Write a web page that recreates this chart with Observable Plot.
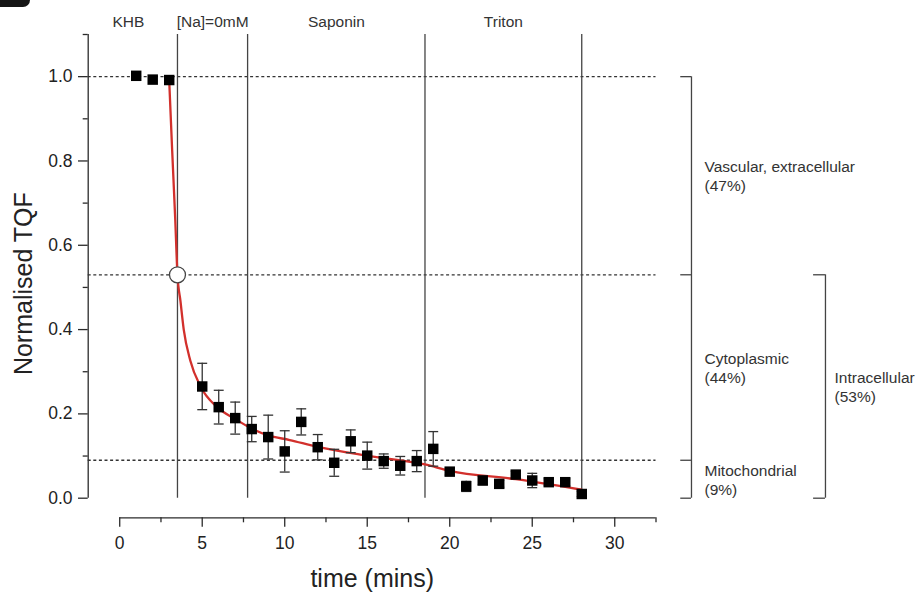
<!DOCTYPE html>
<html>
<head>
<meta charset="utf-8">
<script src="https://cdn.jsdelivr.net/npm/d3@7"></script>
<script src="https://cdn.jsdelivr.net/npm/@observablehq/plot@0.6"></script>
<style>
  html, body { margin: 0; padding: 0; background: #fff; }
  #wrap { position: relative; width: 918px; height: 595px; overflow: hidden; }
  #tab { position: absolute; left: 0; top: 0; width: 30px; height: 7px; background: #151515; border-bottom-right-radius: 9px; }
  #chart { position: absolute; left: 0; top: 0; }
</style>
</head>
<body>
<div id="wrap"><div id="chart"></div><div id="tab"></div></div>
<script>
// ---- data ----
const times = [1, 2, 3, 5, 6, 7, 8, 9, 10, 11, 12, 13, 14, 15, 16, 17, 18, 19, 20, 21, 22, 23, 24, 25, 26, 27, 28];
const tqf   = [1.002, 0.993, 0.992, 0.265, 0.216, 0.190, 0.164, 0.145, 0.111, 0.181, 0.121, 0.084, 0.135, 0.101, 0.088, 0.077, 0.088, 0.117, 0.063, 0.028, 0.042, 0.034, 0.056, 0.042, 0.038, 0.038, 0.010];
const sem   = [0, 0, 0, 0.055, 0.040, 0.038, 0.030, 0.052, 0.049, 0.031, 0.030, 0.032, 0.027, 0.032, 0.017, 0.022, 0.025, 0.041, 0.008, 0.012, 0.010, 0.008, 0.008, 0.017, 0.008, 0.008, 0.006];

// fitted curve
const fitTime = [3.0, 3.18, 3.36, 3.5, 3.68, 3.88, 4.28, 4.9, 5.9, 7, 8, 9, 10.3, 12, 15, 18.5, 20, 24, 28];
const fitTqf  = [0.99, 0.824, 0.666, 0.53, 0.468, 0.40, 0.326, 0.265, 0.216, 0.188, 0.165, 0.149, 0.138, 0.122, 0.101, 0.080, 0.065, 0.045, 0.020];

const halfPoint = [{t: 3.5, v: 0.53}];

const phaseBounds = [3.5, 7.75, 18.5, 28];
const phaseLabels = ["KHB", "[Na]=0mM", "Saponin", "Triton"];
const phaseLabelTime = [0.53, 5.63, 13.13, 23.25];

const levels = [1.0, 0.53, 0.09];

const compartmentLabels = ["Vascular, extracellular\n(47%)", "Cytoplasmic\n(44%)", "Mitochondrial\n(9%)"];
const compartmentTop    = [1.0, 0.53, 0.09];
const compartmentBottom = [0.53, 0.09, 0.0];
const groupLabels = ["Intracellular\n(53%)"];
const groupTop    = [0.53];
const groupBottom = [0.0];

const yMajor = [0, 0.2, 0.4, 0.6, 0.8, 1.0];
const yMinor = [0.1, 0.3, 0.5, 0.7, 0.9, 1.1];
const xMajor = [0, 5, 10, 15, 20, 25, 30];
const xMinor = [2.5, 7.5, 12.5, 17.5, 22.5, 27.5, 32.5];

const yTitle = "Normalised TQF";
const xTitle = "time (mins)";

// ---- layout ----
const xDomain = [-1.91, 32.5];
const yDomain = [-0.0465, 1.1];
const yAxisTop = 1.1;
const xAxisEnd = 32.5;
const yTitlePos = 0.509;
const xTitlePos = 15.3;
const bracket1X = 34.65, bracket1TickX = 34.0;
const bracket2X = 42.77, bracket2TickX = 42.05;
const label1X = 35.44, label2X = 43.32;

const pts = times.map((t, i) => ({t, v: tqf[i], e: sem[i]}));
const errPts = pts.filter(d => d.e > 0);
const fit = fitTime.map((t, i) => ({t, v: fitTqf[i]}));
const phases = phaseLabels.map((s, i) => ({s, t: phaseLabelTime[i]}));
const comps = compartmentLabels.map((s, i) => ({s, top: compartmentTop[i], bottom: compartmentBottom[i], mid: (compartmentTop[i] + compartmentBottom[i]) / 2}));
const groups = groupLabels.map((s, i) => ({s, top: groupTop[i], bottom: groupBottom[i], mid: (groupTop[i] + groupBottom[i]) / 2}));
const bracket1Ticks = [1.0, 0.53, 0.09, 0.0];
const bracket2Ticks = [0.53, 0.0];

const ink = "#2b2b2b";
const capSymbol = { draw(ctx, size) { const w = Math.sqrt(size) / 2; ctx.moveTo(-w, 0); ctx.lineTo(w, 0); } };

const chart = Plot.plot({
  width: 918,
  height: 595,
  marginLeft: 87.7,
  marginRight: 262.5,
  marginTop: 34,
  marginBottom: 77.7,
  x: {domain: xDomain},
  y: {domain: yDomain},
  style: {fontFamily: "'Liberation Sans', Arial, Helvetica, sans-serif", fontSize: "17px", color: "#222", background: "white"},
  marks: [
    // axes
    Plot.ruleX([xDomain[0]], {y1: 0, y2: yAxisTop, stroke: ink, strokeWidth: 1.3}),
    Plot.ruleY([yDomain[0]], {x1: 0, x2: xAxisEnd, stroke: ink, strokeWidth: 1.3}),
    Plot.axisY(yMajor, {anchor: "left", tickSize: 9.7, tickPadding: 6, tickFormat: d3.format(".1f"), fontSize: 17.5, stroke: ink, strokeWidth: 1.3, label: null}),
    Plot.axisY(yMinor, {anchor: "left", tickSize: 5, tickFormat: () => "", stroke: ink, strokeWidth: 1.3, label: null}),
    Plot.axisX(xMajor, {anchor: "bottom", tickSize: 9.4, tickPadding: 9, tickFormat: d3.format("d"), fontSize: 17.5, stroke: ink, strokeWidth: 1.3, label: null}),
    Plot.axisX(xMinor, {anchor: "bottom", tickSize: 5, tickFormat: () => "", stroke: ink, strokeWidth: 1.3, label: null}),
    Plot.text([yTitle], {x: xDomain[0], y: yTitlePos, text: d => d, rotate: -90, dx: -63.7, fontSize: 25, fill: "#222"}),
    Plot.text([xTitle], {x: xTitlePos, y: yDomain[0], text: d => d, dy: 61, fontSize: 25, fill: "#222"}),

    // reference lines
    Plot.ruleY(levels, {x1: xDomain[0], x2: xAxisEnd, stroke: "#333", strokeWidth: 1.3, strokeDasharray: "3,2.6"}),
    Plot.ruleX(phaseBounds, {y1: 0, y2: yAxisTop, stroke: "#444", strokeWidth: 1.3}),
    Plot.text(phases, {x: "t", y: yAxisTop, text: "s", dy: -12, fontSize: 15.5, fill: "#333"}),

    // fit
    Plot.line(fit, {x: "t", y: "v", curve: "monotone-x", stroke: "#d2302c", strokeWidth: 2.3}),

    // error bars
    Plot.ruleX(errPts, {x: "t", y1: d => d.v - d.e, y2: d => d.v + d.e, stroke: "#333", strokeWidth: 1.3}),
    Plot.dot(errPts, {x: "t", y: d => d.v + d.e, symbol: capSymbol, r: 5.6, fill: "none", stroke: "#333", strokeWidth: 1.3}),
    Plot.dot(errPts, {x: "t", y: d => d.v - d.e, symbol: capSymbol, r: 5.6, fill: "none", stroke: "#333", strokeWidth: 1.3}),

    // data
    Plot.dot(pts, {x: "t", y: "v", symbol: "square", r: 5.9, fill: "#000", stroke: "none"}),
    Plot.dot(halfPoint, {x: "t", y: "v", r: 8, fill: "white", stroke: "#444", strokeWidth: 1.3}),

    // brackets
    Plot.ruleX(comps.slice(0, 1), {x: bracket1X, y1: 0, y2: 1.0, stroke: "#444", strokeWidth: 1.3}),
    Plot.ruleY(bracket1Ticks, {x1: bracket1TickX, x2: bracket1X, stroke: "#444", strokeWidth: 1.3}),
    Plot.ruleX(groups, {x: bracket2X, y1: "bottom", y2: "top", stroke: "#444", strokeWidth: 1.3}),
    Plot.ruleY(bracket2Ticks, {x1: bracket2TickX, x2: bracket2X, stroke: "#444", strokeWidth: 1.3}),
    Plot.text(comps, {x: label1X, y: "mid", text: "s", textAnchor: "start", lineHeight: 1.24, fontSize: 15.5, fill: "#333"}),
    Plot.text(groups, {x: label2X, y: "mid", text: "s", textAnchor: "start", lineHeight: 1.24, fontSize: 15.5, fill: "#333"})
  ]
});
document.getElementById("chart").appendChild(chart);
</script>
</body>
</html>
